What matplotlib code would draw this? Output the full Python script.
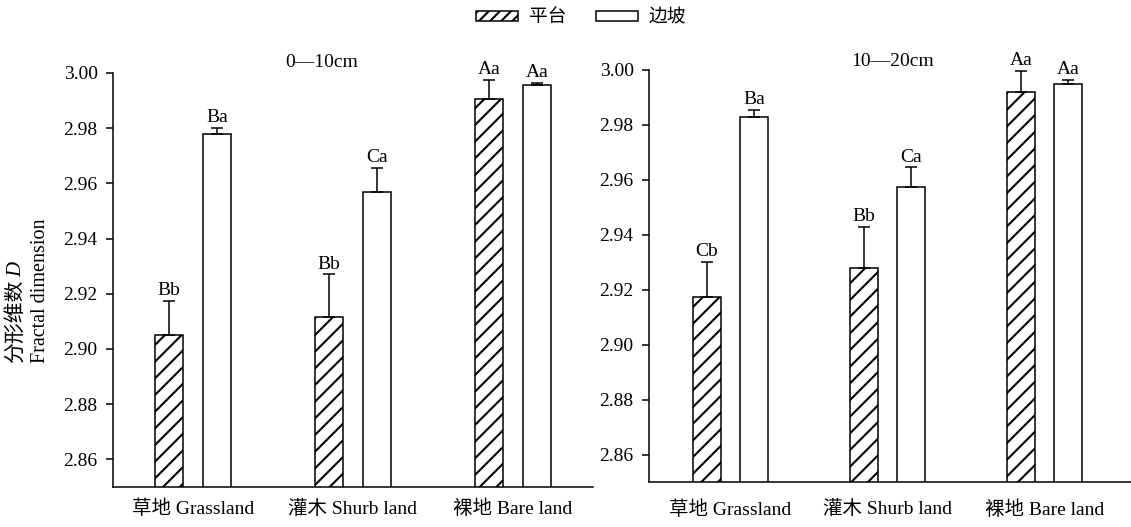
import matplotlib
matplotlib.use("Agg")
import matplotlib.pyplot as plt
import numpy as np
from matplotlib.patches import Patch

plt.rcParams.update({
    "font.family": ["Liberation Serif", "Noto Sans CJK SC"],
    "font.size": 14,
    "hatch.linewidth": 1.5,
})

categories = ["草地 Grassland", "灌木 Shurb land", "裸地 Bare land"]
series_names = ["平台", "边坡"]

# 0-10 cm
top_mean = [2.905, 2.9115, 2.9905]
top_err = [0.0125, 0.0155, 0.0070]
slope_mean = [2.978, 2.957, 2.9955]
slope_err = [0.0020, 0.0085, 0.0010]
top_sig = ["Bb", "Bb", "Aa"]
slope_sig = ["Ba", "Ca", "Aa"]

# 10-20 cm
top_mean2 = [2.9175, 2.928, 2.992]
top_err2 = [0.0125, 0.0150, 0.0075]
slope_mean2 = [2.983, 2.9575, 2.995]
slope_err2 = [0.0025, 0.0070, 0.0015]
top_sig2 = ["Cb", "Bb", "Aa"]
slope_sig2 = ["Ba", "Ca", "Aa"]

yticks = [2.86, 2.88, 2.90, 2.92, 2.94, 2.96, 2.98, 3.00]

fig = plt.figure(figsize=(11.31, 5.27), dpi=100)
ax1 = fig.add_axes([0.0999, 0.0759, 0.4244, 0.7856])
ax2 = fig.add_axes([0.5738, 0.0854, 0.4262, 0.7818])


def draw(ax, tm, te, sm, se, tsig, ssig, title, xlim, title_xy, xpad):
    x = np.arange(len(categories)) + 0.5
    w, off = 0.18, 0.15
    ax.bar(x - off, tm, w, color="white", edgecolor="black", hatch="//",
           linewidth=1.1, zorder=2)
    ax.bar(x + off, sm, w, color="white", edgecolor="black",
           linewidth=1.1, zorder=2)
    for xs, m, e in ((x - off, tm, te), (x + off, sm, se)):
        ax.errorbar(xs, m, yerr=[np.zeros(3), e], fmt="none",
                    ecolor="black", elinewidth=1.1, capsize=4, capthick=1.1,
                    clip_on=False, zorder=3)
    for xs, m, e, sig in ((x - off, tm, te, tsig), (x + off, sm, se, ssig)):
        for xi, mi, ei, s in zip(xs, m, e, sig):
            ax.text(xi, mi + ei + 0.0007, s, ha="center", va="bottom",
                    fontsize=14, clip_on=False)
    ax.set_xlim(*xlim)
    ax.set_ylim(2.85, 3.00)
    ax.set_yticks(yticks)
    ax.set_yticklabels([f"{t:.2f}" for t in yticks])
    ax.set_xticks(x)
    ax.set_xticklabels(categories, fontsize=14)
    ax.tick_params(axis="x", length=0, pad=xpad)
    ax.tick_params(axis="y", direction="out", length=5, width=1.1,
                   labelsize=14, pad=6)
    for sp in ("top", "right"):
        ax.spines[sp].set_visible(False)
    for sp in ("left", "bottom"):
        ax.spines[sp].set_linewidth(1.1)
    ax.text(title_xy[0], title_xy[1], title, transform=ax.transAxes,
            ha="center", va="center", fontsize=14)


draw(ax1, top_mean, top_err, slope_mean, slope_err, top_sig, slope_sig,
     "0—10cm", (0, 3), (0.435, 1.025), 9)
draw(ax2, top_mean2, top_err2, slope_mean2, slope_err2, top_sig2, slope_sig2,
     "10—20cm", (-0.02, 3.05), (0.505, 1.02), 13)

# y label: two rotated lines, bottom-aligned
y0 = 1 - 363 / 527
fig.text(41 / 1131, y0, "Fractal dimension", rotation=90, ha="center",
         va="bottom", fontsize=14.5)
zh = fig.text(17 / 1131, y0, "分形维数", rotation=90, ha="center",
              va="bottom", fontsize=15)
fig.canvas.draw()
bb = zh.get_window_extent().transformed(fig.transFigure.inverted())
fig.text(17 / 1131, bb.y1 + 0.004, "D", rotation=90, ha="center",
         va="bottom", fontsize=15, style="italic")

handles = [Patch(facecolor="white", edgecolor="black", hatch="///", lw=1.1),
           Patch(facecolor="white", edgecolor="black", lw=1.1)]
fig.legend(handles, series_names, loc="center", bbox_to_anchor=(0.514, 0.966),
           ncol=2, frameon=False, fontsize=13.5, handlelength=2.2,
           handleheight=0.45, columnspacing=1.6, handletextpad=0.6)

fig.savefig("out.png", dpi=100)
